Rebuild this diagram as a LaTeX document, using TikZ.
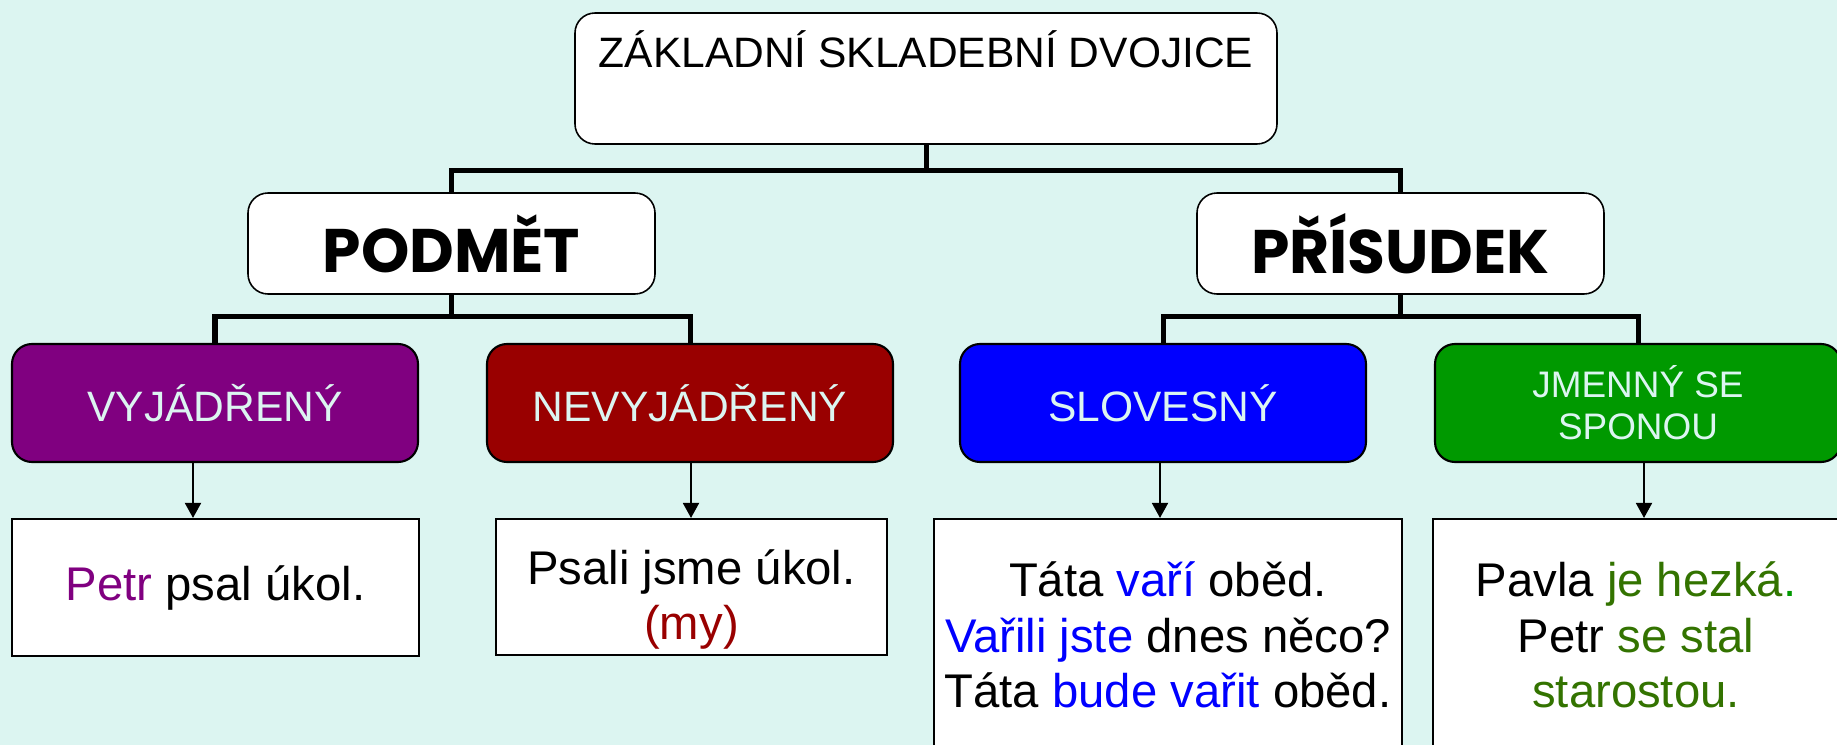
\documentclass[tikz,border=0pt]{standalone}
\usepackage{fontspec}
\setmainfont{Liberation Sans}
\newfontfamily\comicfont{Poppins}
\usetikzlibrary{arrows.meta}

\definecolor{bgcol}{RGB}{220,245,241}
\definecolor{vyjcol}{RGB}{128,0,128}
\definecolor{nevcol}{RGB}{153,0,0}
\definecolor{slovcol}{RGB}{0,0,255}
\definecolor{jmencol}{RGB}{0,153,0}
\definecolor{sponacol}{RGB}{51,115,0}

\tikzset{
  headbox/.style={draw, fill=white, rounded corners=0.4cm, line width=0.9pt, align=center, inner sep=0pt,
    minimum width=14.04cm, minimum height=2.62cm, font=\fontsize{24.2}{29}\selectfont},
  mainbox/.style={draw, fill=white, rounded corners=0.4cm, line width=0.9pt, inner sep=0pt,
    minimum width=8.14cm, minimum height=2.02cm, font=\comicfont\bfseries\fontsize{35}{42}\selectfont},
  typebox/.style={draw, rounded corners=0.4cm, line width=1.2pt, align=center, inner sep=0pt, text=bgcol,
    minimum width=8.12cm, minimum height=2.36cm, font=\fontsize{24.2}{29}\selectfont},
  examplebox/.style={draw, fill=white, line width=1.2pt, align=center, inner sep=0pt,
    font=\fontsize{26.9}{31.6}\selectfont},
  elbow/.style={line width=2.85pt},
  arr/.style={line width=1.1pt, -{Triangle[length=0.3cm,width=0.32cm]}}
}

\begin{document}
\begin{tikzpicture}
\clip (0,0) rectangle (36.74,-14.9);
\fill[bgcol] (0,0) rectangle (36.74,-14.9);

% top level
\node (top) at (18.52,-1.57) [headbox] {ZÁKLADNÍ SKLADEBNÍ DVOJICE\\[-0.15cm] \strut};

\node (podmet) at (9.03,-4.87) [mainbox] {PODMĚT};
\node (prisudek) at (28.01,-4.87) [mainbox] {PŘÍSUDEK};

% kinds
\node[fill=vyjcol] (vyj) at (4.30,-8.06) [typebox] {VYJÁDŘENÝ};
\node[fill=nevcol] (nevyj) at (13.80,-8.06) [typebox] {NEVYJÁDŘENÝ};
\node[fill=slovcol] (slov) at (23.26,-8.06) [typebox] {SLOVESNÝ};
\node[fill=jmencol] (jmen) at (32.76,-8.06) [typebox, font=\fontsize{21}{24}\selectfont] {JMENNÝ SE\\SPONOU};

% examples
\node (ex1) at (4.31,-11.75) [examplebox, minimum width=8.14cm, minimum height=2.74cm]
  {\textcolor{vyjcol}{Petr} psal úkol.};
\node (ex2) at (13.83,-11.74) [examplebox, minimum width=7.82cm, minimum height=2.72cm]
  {\strut\\[-0.69cm]Psali jsme úkol.\\\textcolor{nevcol}{(my)}};
\node (ex3) at (23.36,-12.70) [examplebox, minimum width=9.36cm, minimum height=4.64cm]
  {Táta \textcolor{slovcol}{vaří} oběd.\\\textcolor{slovcol}{Vařili jste} dnes něco?\\Táta \textcolor{slovcol}{bude vařit} oběd.};
\node (ex4) at (32.72,-12.70) [examplebox, minimum width=8.12cm, minimum height=4.64cm]
  {Pavla \textcolor{sponacol}{je hezká}\textcolor{jmencol}{.}\\Petr \textcolor{sponacol}{se stal}\\\textcolor{sponacol}{starostou.}};

\draw[elbow] (top.south) -- ++(0,-0.52) -| (podmet.north);
\draw[elbow] (top.south) -- ++(0,-0.52) -| (prisudek.north);
\draw[elbow] (podmet.south) -- ++(0,-0.44) -| (vyj.north);
\draw[elbow] (podmet.south) -- ++(0,-0.44) -| (nevyj.north);
\draw[elbow] (prisudek.south) -- ++(0,-0.44) -| (slov.north);
\draw[elbow] (prisudek.south) -- ++(0,-0.44) -| (jmen.north);

\draw[arr] ([xshift=-0.44cm]vyj.south) -- ([xshift=-0.45cm]ex1.north);
\draw[arr] ([xshift=0.02cm]nevyj.south) -- ([xshift=-0.01cm]ex2.north);
\draw[arr] ([xshift=-0.06cm]slov.south) -- ([xshift=-0.16cm]ex3.north);
\draw[arr] ([xshift=0.12cm]jmen.south) -- ([xshift=0.16cm]ex4.north);
\end{tikzpicture}
\end{document}
